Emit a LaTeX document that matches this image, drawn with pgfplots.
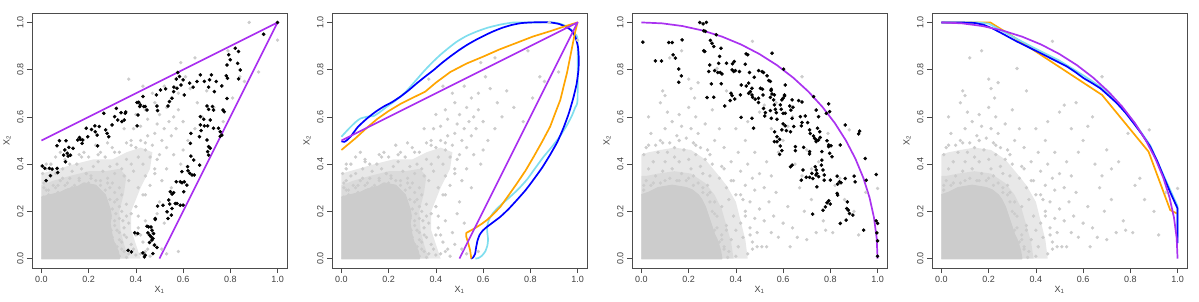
\documentclass[border=0pt]{standalone}
\usepackage{fontspec}
\setmainfont{Liberation Sans}
\usepackage{pgfplots}
\usepackage{pgfplotstable}
\pgfplotsset{compat=1.18}
\definecolor{cloudgray}{RGB}{204,204,204}
\definecolor{rpurple}{RGB}{170,50,240}
\definecolor{rblue}{RGB}{0,0,255}
\definecolor{rorange}{RGB}{255,165,0}
\definecolor{rcyan}{RGB}{128,222,238}

\pgfplotstableread{
x y
0 0
0.33 0
0.325 0.03
0.31 0.06
0.30 0.09
0.295 0.12
0.29 0.15
0.295 0.18
0.29 0.21
0.28 0.24
0.27 0.27
0.25 0.29
0.23 0.31
0.20 0.315
0.18 0.32
0.155 0.305
0.13 0.30
0.10 0.29
0.08 0.28
0.06 0.275
0.04 0.27
0.02 0.265
0 0.26
}\coreA

\pgfplotstableread{
x y
0 0
0.37 0
0.35 0.06
0.335 0.12
0.33 0.20
0.35 0.28
0.36 0.35
0.33 0.38
0.27 0.37
0.20 0.37
0.12 0.35
0.05 0.33
0 0.31
}\innerA

\pgfplotstableread{
x y
0 0
0.42 0
0.40 0.06
0.38 0.12
0.38 0.20
0.42 0.30
0.46 0.38
0.47 0.45
0.42 0.47
0.36 0.45
0.30 0.42
0.22 0.42
0.14 0.40
0.07 0.38
0 0.36
}\midA

\pgfplotstableread{
x y
0 0
0.34 0
0.335 0.03
0.33 0.05
0.32 0.08
0.31 0.10
0.30 0.13
0.29 0.16
0.28 0.19
0.27 0.22
0.255 0.25
0.24 0.27
0.215 0.29
0.19 0.30
0.16 0.305
0.13 0.31
0.10 0.305
0.07 0.30
0.05 0.29
0.03 0.28
0 0.27
}\coreB

\pgfplotstableread{
x y
0 0
0.39 0
0.38 0.07
0.36 0.14
0.34 0.21
0.31 0.27
0.27 0.32
0.21 0.36
0.14 0.37
0.07 0.36
0.02 0.35
0 0.35
}\innerB

\pgfplotstableread{
x y
0 0
0.45 0
0.44 0.08
0.42 0.16
0.40 0.24
0.36 0.31
0.32 0.36
0.27 0.42
0.21 0.46
0.14 0.47
0.08 0.46
0.03 0.45
0 0.44
}\midB

\pgfplotstableread{
x y
0.31 0.02
0.33 0.01
0.35 0.03
0.32 0.05
0.34 0.07
0.37 0.02
0.30 0.09
0.33 0.11
0.36 0.09
0.31 0.14
0.35 0.13
0.38 0.06
0.29 0.17
0.33 0.17
0.37 0.15
0.40 0.10
0.39 0.04
0.42 0.02
0.41 0.13
0.30 0.21
0.34 0.20
0.38 0.19
0.36 0.23
0.32 0.25
0.40 0.22
0.43 0.07
0.45 0.04
0.44 0.16
0.47 0.11
0.28 0.005
0.36 0.005
0.40 0.015
0.31 0.06
0.295 0.12
0.315 0.19
0.345 0.16
0.01 0.26
0.03 0.29
0.02 0.33
0.05 0.31
0.07 0.28
0.08 0.33
0.06 0.36
0.10 0.31
0.12 0.34
0.11 0.29
0.14 0.31
0.13 0.37
0.16 0.33
0.15 0.40
0.18 0.31
0.19 0.36
0.17 0.38
0.20 0.32
0.21 0.35
0.22 0.30
0.23 0.33
0.24 0.27
0.26 0.26
0.01 0.30
0.04 0.35
0.09 0.38
0.10 0.42
0.12 0.40
0.005 0.36
0.02 0.40
0.06 0.43
0.08 0.45
0.25 0.31
0.27 0.29
0.28 0.34
0.26 0.37
0.30 0.32
0.31 0.36
0.29 0.39
0.33 0.30
0.24 0.41
0.22 0.39
0.20 0.43
0.27 0.43
0.32 0.40
0.35 0.35
0.34 0.38
0.36 0.42
0.33 0.45
0.30 0.47
0.38 0.40
0.37 0.33
0.39 0.37
0.41 0.43
0.40 0.47
0.38 0.50
0.43 0.40
0.44 0.46
0.42 0.50
0.45 0.52
0.47 0.48
0.46 0.43
0.48 0.53
0.41 0.30
0.44 0.35
0.43 0.27
0.46 0.31
0.48 0.38
0.50 0.44
0.51 0.50
0.49 0.57
0.52 0.55
0.53 0.47
0.55 0.52
0.54 0.58
0.50 0.61
0.56 0.60
0.57 0.55
0.58 0.63
0.53 0.64
0.60 0.58
0.48 0.66
0.45 0.59
0.42 0.56
0.39 0.55
0.36 0.49
0.35 0.55
0.28 0.49
0.25 0.45
0.23 0.48
0.18 0.45
0.16 0.44
0.40 0.61
0.44 0.63
0.47 0.70
0.37 0.76
0.43 0.73
0.59 0.83
0.65 0.85
0.63 0.72
0.61 0.77
0.70 0.71
0.73 0.64
0.79 0.88
0.84 0.77
0.86 0.75
0.81 0.68
0.77 0.58
0.88 1.0
1.0 0.925
0.92 0.79
0.66 0.66
0.55 0.68
0.58 0.70
0.52 0.73
0.62 0.50
0.65 0.55
0.68 0.60
0.56 0.44
0.59 0.40
0.53 0.38
0.51 0.33
0.55 0.30
0.50 0.24
0.49 0.19
0.52 0.15
0.48 0.06
0.51 0.04
0.53 0.02
0.58 0.03
0.46 0.01
0.60 0.46
0.27 0.22
0.25 0.26
0.29 0.25
0.31 0.28
0.18 0.29
0.13 0.30
0.07 0.31
0.03 0.27
0.34 0.04
0.33 0.08
0.32 0.12
0.31 0.16
0.31 0.24
0.29 0.30
0.25 0.33
0.21 0.34
0.16 0.34
0.11 0.32
0.06 0.30
0.02 0.29
0.35 0.10
0.33 0.22
0.28 0.32
0.19 0.36
0.09 0.34
0.01 0.32
0.36 0.18
0.34 0.27
0.44 0.03
0.42 0.10
0.41 0.18
0.44 0.27
0.48 0.36
0.49 0.42
0.44 0.49
0.38 0.48
0.31 0.45
0.24 0.44
0.17 0.43
0.10 0.41
0.04 0.40
0.02 0.38
}\cloudA

\pgfplotstableread{
x y
0.01 0.29
0.02 0.33
0.04 0.31
0.06 0.35
0.03 0.38
0.08 0.32
0.09 0.37
0.05 0.41
0.01 0.44
0.02 0.47
0.07 0.45
0.10 0.41
0.12 0.34
0.13 0.38
0.11 0.45
0.14 0.43
0.15 0.33
0.17 0.36
0.16 0.41
0.18 0.46
0.19 0.33
0.21 0.38
0.20 0.42
0.22 0.35
0.23 0.44
0.24 0.32
0.25 0.39
0.26 0.36
0.27 0.42
0.28 0.31
0.29 0.35
0.30 0.40
0.08 0.50
0.12 0.49
0.15 0.52
0.19 0.51
0.22 0.49
0.25 0.47
0.28 0.46
0.04 0.53
0.06 0.48
0.10 0.55
0.13 0.58
0.17 0.56
0.21 0.55
0.24 0.53
0.14 0.47
0.16 0.61
0.23 0.60
0.20 0.64
0.11 0.62
0.09 0.71
0.10 0.69
0.12 0.85
0.17 0.88
0.20 0.76
0.24 0.745
0.21 0.72
0.225 0.68
0.08 0.66
0.32 0.805
0.36 0.71
0.30 0.63
0.27 0.57
0.33 0.55
0.31 0.50
0.35 0.47
0.03 0.60
0.33 0.02
0.35 0.05
0.34 0.10
0.37 0.03
0.36 0.14
0.32 0.18
0.38 0.08
0.40 0.12
0.39 0.18
0.41 0.05
0.43 0.09
0.42 0.15
0.44 0.20
0.45 0.02
0.46 0.13
0.47 0.07
0.48 0.17
0.34 0.22
0.37 0.25
0.31 0.24
0.40 0.27
0.43 0.25
0.46 0.24
0.49 0.11
0.50 0.21
0.51 0.05
0.52 0.16
0.53 0.05
0.49 0.05
0.55 0.11
0.56 0.18
0.54 0.24
0.58 0.09
0.60 0.15
0.63 0.05
0.62 0.22
0.57 0.28
0.52 0.30
0.48 0.29
0.44 0.31
0.39 0.33
0.36 0.30
0.33 0.34
0.35 0.38
0.38 0.41
0.42 0.37
0.45 0.40
0.47 0.34
0.50 0.36
0.53 0.41
0.41 0.45
0.44 0.50
0.48 0.45
0.55 0.35
0.58 0.45
0.40 0.01
0.30 0.01
0.365 0.005
0.29 0.28
0.26 0.30
0.30 0.20
0.31 0.12
0.33 0.07
0.47 0.92
0.68 0.77
0.88 0.545
0.62 0.56
0.60 0.50
0.70 0.46
0.72 0.38
0.75 0.41
0.79 0.53
0.82 0.31
0.84 0.34
0.77 0.16
0.78 0.12
0.74 0.11
0.81 0.11
0.92 0.10
1.0 0.297
0.65 0.40
0.67 0.30
0.64 0.13
0.69 0.20
0.55 0.55
0.50 0.62
0.45 0.58
0.52 0.65
0.40 0.55
0.57 0.66
0.64 0.60
0.68 0.35
0.72 0.25
0.70 0.08
0.66 0.09
0.86 0.25
0.90 0.20
0.95 0.28
0.35 0.04
0.34 0.08
0.32 0.13
0.31 0.19
0.29 0.24
0.26 0.28
0.22 0.31
0.16 0.33
0.10 0.33
0.05 0.32
0.01 0.31
0.36 0.12
0.28 0.27
0.20 0.34
0.47 0.04
0.46 0.10
0.44 0.18
0.42 0.27
0.38 0.33
0.34 0.39
0.29 0.44
0.23 0.48
0.16 0.50
0.09 0.49
0.03 0.48
}\cloudB

\pgfplotstableread{
x y
0.003 0.392
0.014 0.382
0.020 0.330
0.034 0.382
0.038 0.351
0.045 0.379
0.066 0.382
0.069 0.364
0.066 0.478
0.076 0.499
0.094 0.438
0.099 0.460
0.104 0.499
0.109 0.446
0.102 0.410
0.113 0.434
0.116 0.471
0.123 0.438
0.134 0.467
0.154 0.502
0.161 0.513
0.165 0.505
0.175 0.502
0.172 0.488
0.190 0.552
0.196 0.516
0.212 0.547
0.226 0.562
0.228 0.537
0.236 0.523
0.238 0.477
0.245 0.559
0.264 0.615
0.272 0.545
0.278 0.530
0.285 0.516
0.299 0.566
0.310 0.601
0.317 0.636
0.323 0.587
0.337 0.618
0.341 0.580
0.351 0.587
0.355 0.615
0.357 0.621
0.405 0.661
0.409 0.608
0.412 0.662
0.416 0.644
0.419 0.651
0.430 0.686
0.433 0.644
0.440 0.644
0.405 0.562
0.447 0.629
0.487 0.693
0.489 0.646
0.492 0.627
0.504 0.714
0.526 0.719
0.536 0.646
0.542 0.665
0.553 0.679
0.560 0.707
0.561 0.726
0.571 0.760
0.574 0.721
0.577 0.788
0.585 0.771
0.591 0.735
0.600 0.757
0.605 0.693
0.628 0.743
0.642 0.726
0.659 0.750
0.673 0.778
0.690 0.750
0.708 0.726
0.712 0.757
0.720 0.778
0.732 0.707
0.740 0.750
0.764 0.731
0.783 0.774
0.788 0.764
0.786 0.820
0.793 0.863
0.800 0.842
0.821 0.891
0.835 0.877
0.831 0.827
0.842 0.799
0.835 0.761
0.941 0.950
1.000 1.000
0.786 0.678
0.769 0.629
0.774 0.622
0.701 0.646
0.708 0.632
0.724 0.644
0.729 0.629
0.673 0.601
0.687 0.590
0.715 0.587
0.673 0.566
0.690 0.562
0.704 0.562
0.729 0.552
0.750 0.552
0.757 0.537
0.764 0.523
0.757 0.518
0.676 0.542
0.669 0.516
0.701 0.502
0.708 0.474
0.715 0.467
0.704 0.453
0.708 0.438
0.633 0.530
0.631 0.488
0.633 0.434
0.645 0.417
0.670 0.396
0.619 0.389
0.621 0.372
0.628 0.361
0.638 0.354
0.647 0.354
0.595 0.368
0.588 0.325
0.595 0.321
0.605 0.325
0.616 0.311
0.603 0.283
0.571 0.325
0.546 0.283
0.560 0.279
0.553 0.273
0.567 0.233
0.574 0.233
0.588 0.226
0.600 0.226
0.539 0.248
0.543 0.231
0.515 0.226
0.492 0.222
0.553 0.212
0.532 0.198
0.550 0.184
0.536 0.170
0.482 0.170
0.482 0.165
0.447 0.137
0.454 0.134
0.464 0.134
0.468 0.120
0.458 0.099
0.464 0.092
0.472 0.085
0.468 0.078
0.451 0.109
0.475 0.106
0.458 0.068
0.478 0.057
0.472 0.021
0.395 0.109
0.408 0.106
0.367 0.035
0.381 0.028
0.430 0.024
0.436 0.007
0.440 0.014
0.489 0.047
}\blackA

\pgfplotstableread{
x y
0.006 0.917
0.059 0.837
0.085 0.837
0.116 0.915
0.130 0.915
0.134 0.863
0.144 0.849
0.172 0.926
0.158 0.803
0.169 0.774
0.158 0.747
0.247 1.000
0.261 0.994
0.275 1.000
0.264 0.965
0.271 0.962
0.264 0.880
0.268 0.877
0.292 0.924
0.299 0.912
0.317 0.948
0.306 0.898
0.331 0.856
0.337 0.891
0.289 0.820
0.285 0.792
0.278 0.682
0.296 0.740
0.306 0.683
0.310 0.796
0.323 0.788
0.327 0.827
0.334 0.788
0.341 0.782
0.338 0.740
0.353 0.646
0.360 0.827
0.386 0.825
0.393 0.835
0.384 0.799
0.391 0.792
0.398 0.796
0.415 0.792
0.379 0.700
0.384 0.690
0.395 0.676
0.376 0.669
0.419 0.693
0.423 0.735
0.422 0.598
0.440 0.823
0.443 0.867
0.450 0.863
0.444 0.731
0.454 0.743
0.454 0.700
0.461 0.707
0.458 0.788
0.468 0.721
0.468 0.693
0.471 0.683
0.482 0.675
0.478 0.768
0.468 0.594
0.475 0.552
0.496 0.796
0.504 0.721
0.513 0.717
0.515 0.693
0.496 0.679
0.496 0.661
0.517 0.636
0.522 0.604
0.525 0.618
0.511 0.792
0.517 0.788
0.532 0.774
0.539 0.754
0.546 0.750
0.549 0.711
0.550 0.717
0.546 0.683
0.553 0.697
0.553 0.870
0.560 0.672
0.563 0.693
0.546 0.627
0.550 0.594
0.563 0.651
0.567 0.632
0.571 0.618
0.574 0.590
0.564 0.537
0.574 0.516
0.563 0.495
0.574 0.495
0.585 0.505
0.588 0.477
0.585 0.441
0.595 0.457
0.595 0.545
0.588 0.651
0.595 0.672
0.600 0.679
0.606 0.693
0.606 0.689
0.592 0.632
0.600 0.615
0.609 0.615
0.600 0.570
0.609 0.562
0.614 0.542
0.631 0.537
0.602 0.802
0.609 0.735
0.628 0.646
0.638 0.672
0.642 0.641
0.633 0.629
0.638 0.594
0.645 0.559
0.652 0.474
0.652 0.457
0.631 0.389
0.638 0.396
0.666 0.669
0.680 0.663
0.673 0.601
0.680 0.576
0.677 0.562
0.687 0.471
0.677 0.332
0.684 0.375
0.698 0.344
0.694 0.604
0.704 0.576
0.712 0.545
0.715 0.530
0.729 0.686
0.740 0.629
0.750 0.601
0.729 0.519
0.733 0.509
0.740 0.502
0.740 0.495
0.746 0.552
0.755 0.537
0.757 0.513
0.750 0.502
0.736 0.389
0.740 0.375
0.743 0.361
0.739 0.354
0.750 0.347
0.743 0.304
0.712 0.453
0.712 0.443
0.722 0.361
0.712 0.344
0.726 0.339
0.725 0.188
0.764 0.453
0.764 0.417
0.762 0.396
0.769 0.375
0.774 0.354
0.774 0.332
0.769 0.205
0.779 0.219
0.786 0.236
0.793 0.245
0.800 0.231
0.786 0.499
0.793 0.481
0.793 0.474
0.797 0.446
0.807 0.431
0.803 0.478
0.797 0.622
0.793 0.655
0.783 0.615
0.800 0.332
0.829 0.349
0.831 0.315
0.829 0.276
0.831 0.269
0.839 0.325
0.845 0.321
0.842 0.149
0.863 0.566
0.842 0.481
0.863 0.339
0.872 0.240
0.870 0.212
0.876 0.205
0.867 0.163
0.881 0.191
0.895 0.184
0.901 0.349
0.905 0.325
0.920 0.528
0.924 0.540
0.948 0.424
0.952 0.332
0.941 0.120
0.994 0.356
0.994 0.160
1.000 0.149
0.997 0.109
1.000 0.075
1.000 0.010
}\blackB

\pgfplotstableread{
x y
1.0000 0.0000
0.9962 0.0872
0.9848 0.1736
0.9659 0.2588
0.9397 0.3420
0.9063 0.4226
0.8660 0.5000
0.8192 0.5736
0.7660 0.6428
0.7071 0.7071
0.6428 0.7660
0.5736 0.8192
0.5000 0.8660
0.4226 0.9063
0.3420 0.9397
0.2588 0.9659
0.1736 0.9848
0.0872 0.9962
0.0000 1.0000
}\arc

\pgfplotstableread{
x y
0.000 0.497
0.012 0.494
0.025 0.503
0.040 0.518
0.070 0.558
0.109 0.594
0.145 0.622
0.179 0.644
0.215 0.663
0.250 0.686
0.285 0.713
0.320 0.743
0.355 0.771
0.391 0.799
0.425 0.828
0.461 0.856
0.497 0.882
0.532 0.905
0.567 0.925
0.602 0.943
0.640 0.961
0.680 0.977
0.720 0.989
0.760 0.997
0.800 1.000
0.850 1.001
0.885 1.000
0.920 0.994
0.950 0.982
0.975 0.965
0.992 0.935
1.002 0.895
1.005 0.850
1.004 0.800
0.996 0.740
0.982 0.680
0.963 0.615
0.941 0.555
0.915 0.495
0.884 0.440
0.850 0.385
0.814 0.335
0.780 0.290
0.743 0.248
0.708 0.210
0.673 0.177
0.640 0.152
0.616 0.134
0.598 0.118
0.585 0.100
0.576 0.075
0.570 0.045
0.566 0.020
0.557 0.004
0.548 0.000
}\blueB

\pgfplotstableread{
x y
0.000 0.516
0.020 0.538
0.040 0.559
0.060 0.578
0.080 0.593
0.110 0.601
0.137 0.604
0.165 0.622
0.193 0.644
0.222 0.664
0.250 0.686
0.272 0.706
0.292 0.728
0.320 0.760
0.348 0.792
0.383 0.829
0.419 0.863
0.455 0.893
0.489 0.919
0.530 0.943
0.574 0.962
0.620 0.978
0.673 0.991
0.729 1.000
0.800 1.000
0.898 1.000
0.930 0.993
0.955 0.983
0.975 0.968
0.990 0.950
1.000 0.926
1.000 0.672
0.990 0.640
0.976 0.605
0.955 0.565
0.927 0.520
0.893 0.475
0.856 0.431
0.820 0.382
0.786 0.335
0.750 0.295
0.715 0.262
0.685 0.236
0.659 0.212
0.640 0.190
0.625 0.165
0.618 0.140
0.617 0.120
0.619 0.100
0.621 0.080
0.618 0.055
0.609 0.030
0.595 0.012
0.580 0.002
0.567 0.000
}\cyanB

\pgfplotstableread{
x y
0.000 0.460
0.030 0.485
0.060 0.510
0.109 0.555
0.150 0.590
0.200 0.625
0.250 0.655
0.300 0.680
0.355 0.707
0.400 0.745
0.461 0.790
0.530 0.826
0.602 0.856
0.670 0.886
0.743 0.914
0.810 0.940
0.884 0.963
0.950 0.985
1.000 1.000
0.990 0.960
0.983 0.926
0.970 0.860
0.955 0.785
0.940 0.725
0.927 0.672
0.905 0.615
0.884 0.559
0.850 0.495
0.814 0.431
0.780 0.373
0.743 0.318
0.708 0.268
0.673 0.219
0.640 0.185
0.616 0.163
0.594 0.147
0.574 0.134
0.550 0.120
0.529 0.109
0.528 0.095
0.537 0.065
0.545 0.035
0.550 0.000
}\orangeB

\pgfplotstableread{
x y
0.000 1.000
0.080 1.000
0.140 0.998
0.179 0.990
0.215 0.975
0.250 0.957
0.285 0.938
0.320 0.919
0.355 0.902
0.391 0.884
0.426 0.867
0.461 0.849
0.497 0.831
0.532 0.813
0.567 0.790
0.602 0.764
0.638 0.743
0.673 0.721
0.708 0.690
0.743 0.658
0.780 0.617
0.814 0.573
0.850 0.525
0.884 0.474
0.913 0.415
0.941 0.347
0.970 0.278
1.000 0.212
1.000 0.065
}\blueD

\pgfplotstableread{
x y
0.000 1.000
0.150 1.000
0.200 0.995
0.250 0.968
0.320 0.930
0.400 0.888
0.500 0.838
0.602 0.775
0.673 0.728
0.743 0.665
0.814 0.580
0.884 0.480
0.941 0.352
1.000 0.222
1.000 0.090
}\cyanD

\pgfplotstableread{
x y
0.000 1.000
0.207 1.000
0.300 0.942
0.680 0.693
0.877 0.453
0.969 0.205
1.000 0.190
}\orangeD

\pgfplotsset{
  rpanel/.style={
    scale only axis, width=255pt, height=255pt,
    xmin=-0.04, xmax=1.04, ymin=-0.04, ymax=1.04,
    axis line style={draw=black!70, line width=0.7pt},
    every tick/.style={draw=black!70, line width=0.6pt},
    tick align=outside, tick pos=left,
    major tick length=5pt,
    xtick={0,0.2,0.4,0.6,0.8,1}, ytick={0,0.2,0.4,0.6,0.8,1},
    xticklabels={0.0,0.2,0.4,0.6,0.8,1.0},
    yticklabels={0.0,0.2,0.4,0.6,0.8,1.0},
    tick label style={font=\fontsize{9}{10}\selectfont, text=black!75},
    yticklabel style={rotate=90, anchor=south},
    xlabel={X\textsubscript{1}}, ylabel={X\textsubscript{2}},
    label style={font=\fontsize{9}{10}\selectfont, text=black!75},
    xlabel style={at={(axis description cs:0.5,-0.086)}, anchor=center},
    ylabel style={at={(axis description cs:-0.098,0.5)}, anchor=center},
    clip=true,
  },
  gpts/.style={only marks, mark=*, mark size=1.5pt, color=cloudgray},
  bpts/.style={only marks, mark=*, mark size=1.6pt, color=black},
  ln/.style={no marks, line width=1.7pt, line join=round},
  core/.style={fill=cloudgray, draw=cloudgray, line width=1.5pt, line join=round},
  mid/.style={fill=cloudgray, fill opacity=0.45, draw=none},
}

\begin{document}
\begin{tikzpicture}
\path[use as bounding box] (0,0) rectangle (1199pt,301pt);

% Panel 1
\begin{axis}[rpanel, at={(32pt,33pt)}, anchor=south west]
\addplot[mid] table {\midA};
\addplot[mid] table {\innerA};
\addplot[core] table {\coreA};
\addplot[gpts] table {\cloudA};
\addplot[bpts] table {\blackA};
\addplot[ln, color=rpurple] coordinates {(0,0.5) (1,1) (0.5,0)};
\end{axis}

% Panel 2
\begin{axis}[rpanel, at={(332pt,33pt)}, anchor=south west]
\addplot[mid] table {\midA};
\addplot[mid] table {\innerA};
\addplot[core] table {\coreA};
\addplot[gpts] table {\cloudA};
\addplot[ln, color=rcyan, smooth, tension=0.3] table {\cyanB};
\addplot[ln, color=rblue, smooth, tension=0.3] table {\blueB};
\addplot[ln, color=rorange] table {\orangeB};
\addplot[ln, color=rpurple] coordinates {(0,0.5) (1,1) (0.5,0)};
\end{axis}

% Panel 3
\begin{axis}[rpanel, at={(632pt,33pt)}, anchor=south west]
\addplot[mid] table {\midB};
\addplot[mid] table {\innerB};
\addplot[core] table {\coreB};
\addplot[gpts] table {\cloudB};
\addplot[bpts] table {\blackB};
\addplot[ln, color=rpurple] table {\arc};
\end{axis}

% Panel 4
\begin{axis}[rpanel, at={(932pt,33pt)}, anchor=south west]
\addplot[mid] table {\midB};
\addplot[mid] table {\innerB};
\addplot[core] table {\coreB};
\addplot[gpts] table {\cloudB};
\addplot[ln, color=rorange] table {\orangeD};
\addplot[ln, color=rcyan] table {\cyanD};
\addplot[ln, color=rblue] table {\blueD};
\addplot[ln, color=rpurple] table {\arc};
\end{axis}
\end{tikzpicture}
\end{document}
